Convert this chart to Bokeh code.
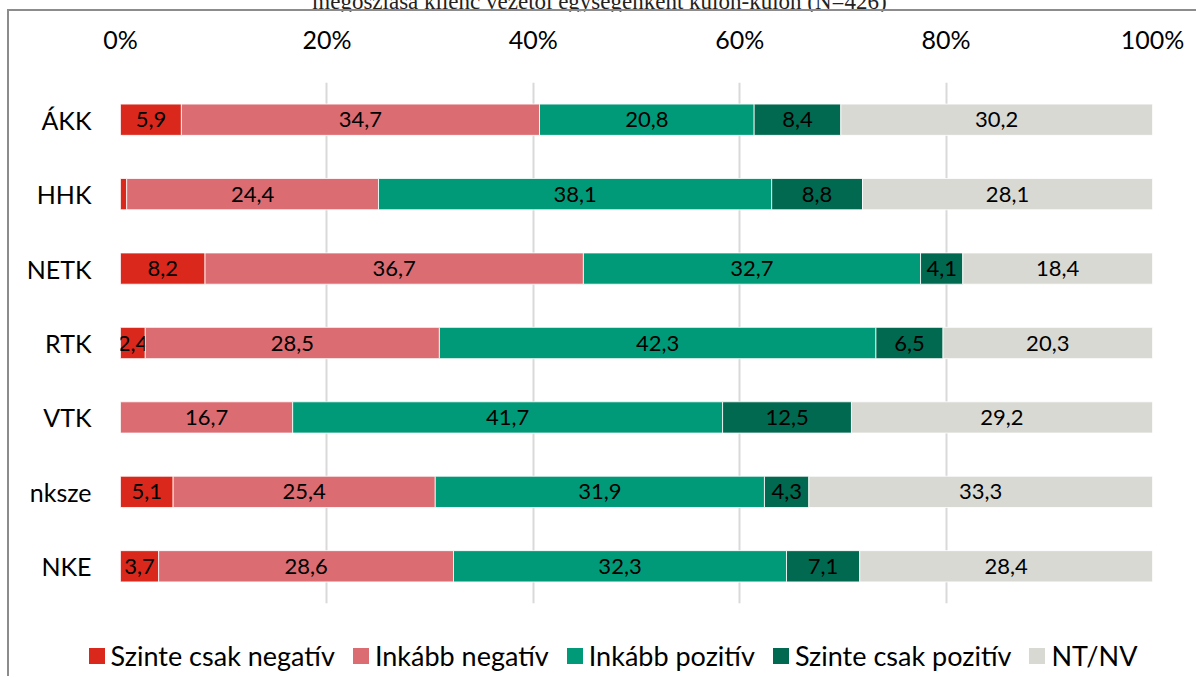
import numpy as np
from bokeh.plotting import figure
from bokeh.models import (ColumnDataSource, FactorRange, Range1d,
                          NumeralTickFormatter, FixedTicker, Div)
from bokeh.layouts import column
from bokeh.embed import file_html
from bokeh.resources import INLINE
from bokeh.core.properties import value

# ---- data ----
units = ["ÁKK", "HHK", "NETK", "RTK", "VTK", "nksze", "NKE"]
series = ["Szinte csak negatív", "Inkább negatív", "Inkább pozitív",
          "Szinte csak pozitív", "NT/NV"]
szinte_neg = [5.9, 0.6, 8.2, 2.4, 0.0, 5.1, 3.7]
inkabb_neg = [34.7, 24.4, 36.7, 28.5, 16.7, 25.4, 28.6]
inkabb_poz = [20.8, 38.1, 32.7, 42.3, 41.7, 31.9, 32.3]
szinte_poz = [8.4, 8.8, 4.1, 6.5, 12.5, 4.3, 7.1]
nt_nv = [30.2, 28.1, 18.4, 20.3, 29.2, 33.3, 28.4]
tick_values = [0, 0.2, 0.4, 0.6, 0.8, 1.0]
title_text = "megoszlása kilenc vezetői egységenként külön-külön (N=426)"

colors = ["#DA291C", "#DB6C72", "#009A78", "#00694F", "#D9D9D4"]
FONT = "Lato"
BORDER = "2px solid #8c8c8c"

vals = np.array([szinte_neg, inkabb_neg, inkabb_poz, szinte_poz, nt_nv])
totals = vals.sum(axis=0)
shares = vals / totals
cum = np.vstack([np.zeros(len(units)), np.cumsum(shares, axis=0)])

p = figure(width=1189, height=600, y_range=FactorRange(factors=units[::-1]),
           x_range=Range1d(0, 1), x_axis_location="above",
           output_backend="svg", toolbar_location=None,
           min_border_left=111, min_border_right=46, min_border_top=71,
           min_border_bottom=8,
           styles={"margin-left": "7px", "border-left": BORDER, "border-top": BORDER})
p.outline_line_color = None
p.background_fill_color = "white"
p.border_fill_color = "white"

for i, name in enumerate(series):
    src = ColumnDataSource(dict(
        y=units, left=cum[i], right=cum[i + 1], mid=(cum[i] + cum[i + 1]) / 2,
        lab=[(f"{v:.1f}".replace(".", ",") if v >= 1 else "") for v in vals[i]]))
    p.hbar(y="y", left="left", right="right", height=0.42, source=src,
           fill_color=colors[i], line_color="white", line_width=0.8)
    p.text(x="mid", y="y", text="lab", source=src, text_align="center",
           text_baseline="middle", text_font=value(FONT), text_font_size="22px",
           text_color="#000000")

p.xaxis.ticker = FixedTicker(ticks=tick_values)
p.xaxis.formatter = NumeralTickFormatter(format="0%")
p.xaxis.axis_line_color = None
p.xaxis.major_tick_line_color = None
p.xaxis.minor_tick_line_color = None
p.xaxis.major_label_text_font = FONT
p.xaxis.major_label_text_font_size = "25px"
p.xaxis.major_label_text_color = "#000000"
p.xaxis.major_label_standoff = 23

p.yaxis.axis_line_color = None
p.yaxis.major_tick_line_color = None
p.yaxis.major_label_text_font = FONT
p.yaxis.major_label_text_font_size = "25px"
p.yaxis.major_label_text_color = "#000000"
p.yaxis.major_label_standoff = 23

p.xgrid.grid_line_color = "#D9D9D9"
p.xgrid.grid_line_width = 2
p.ygrid.grid_line_color = None

# legend (HTML row under the chart, spanning the full chart width)
legend_html = "".join(
    f'<span style="display:inline-flex;align-items:center;margin-right:18px;">'
    f'<span style="display:inline-block;width:16px;height:16px;background:{c};'
    f'margin-right:6px;"></span>{name}</span>'
    for name, c in zip(series, colors))
legend_div = Div(text=legend_html, width=1189, height=75,
                 styles={"margin-left": "7px", "margin-top": "-8px",
                         "border-left": BORDER,
                         "font-family": FONT, "font-size": "27px", "color": "#000000",
                         "display": "flex", "justify-content": "center",
                         "align-items": "flex-start", "padding-top": "36px",
                         "padding-left": "39px", "white-space": "nowrap",
                         "box-sizing": "border-box", "line-height": "34px"})

title = Div(text=title_text, width=1189, height=18,
            styles={"margin-top": "-14px", "font-family": "Liberation Serif",
                    "font-size": "23px", "color": "#222222", "text-align": "center",
                    "overflow": "visible", "white-space": "nowrap"})

layout = column(title, p, legend_div)
open("out.html", "w").write(file_html(layout, INLINE))
